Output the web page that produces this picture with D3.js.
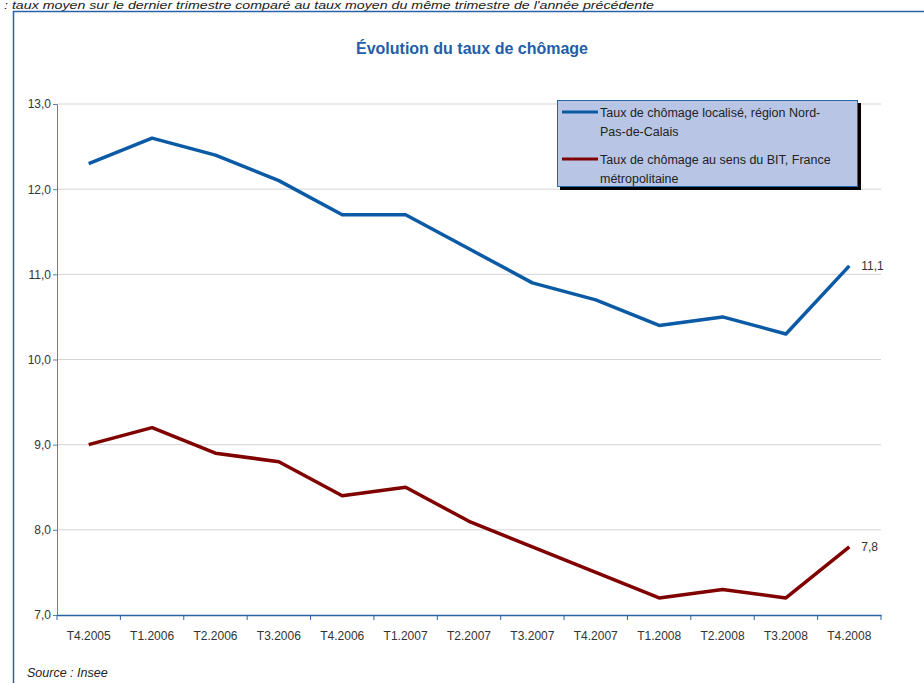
<!DOCTYPE html>
<html><head><meta charset="utf-8">
<script src="https://cdn.jsdelivr.net/npm/d3@7"></script>
<style>
body{margin:0;background:#fff;}
svg text{font-family:"Liberation Sans Narrow","Arial Narrow","Liberation Sans",Arial,sans-serif;}
</style></head>
<body><svg id="c" width="924" height="683"></svg>
<script>
const categories = ["T4.2005","T1.2006","T2.2006","T3.2006","T4.2006","T1.2007","T2.2007","T3.2007","T4.2007","T1.2008","T2.2008","T3.2008","T4.2008"];
const nordPasDeCalais = [12.3,12.6,12.4,12.1,11.7,11.7,11.3,10.9,10.7,10.4,10.5,10.3,11.1];
const franceMetro = [9.0,9.2,8.9,8.8,8.4,8.5,8.1,7.8,7.5,7.2,7.3,7.2,7.8];
const yTicks = [7,8,9,10,11,12,13];
const seriesNames = ["Taux de chômage localisé, région Nord-|Pas-de-Calais","Taux de chômage au sens du BIT, France|métropolitaine"];

const svg = d3.select("#c");
const blue = "#0a5aa6", red = "#800000";

svg.append("text").attr("x",4).attr("y",9).attr("font-size",11.5).attr("font-style","italic").attr("fill","#222")
  .attr("textLength",650).attr("lengthAdjust","spacingAndGlyphs")
  .text(": taux moyen sur le dernier trimestre comparé au taux moyen du même trimestre de l'année précédente");

svg.append("rect").attr("x",13.5).attr("y",11.5).attr("width",940).attr("height",700)
  .attr("fill","none").attr("stroke","#2a62a8").attr("stroke-width",1.5);

svg.append("text").attr("x",472).attr("y",54).attr("text-anchor","middle").attr("font-size",16).attr("font-weight","bold")
  .attr("fill","#1f5ea8").text("Évolution du taux de chômage");

const x = d3.scaleBand().domain(categories).range([57,881]);
const y = d3.scaleLinear().domain([7,13]).range([615,104]);

// gridlines
svg.append("g").selectAll("line").data(yTicks.filter(d=>d>7)).join("line")
  .attr("x1",57).attr("x2",881).attr("y1",d=>y(d)).attr("y2",d=>y(d))
  .attr("stroke","#d4d4d4").attr("stroke-width",1);

// y axis
const ya = svg.append("g").attr("transform","translate(57,0)")
  .call(d3.axisLeft(y).tickValues(yTicks).tickSize(4).tickFormat(d=>d3.format(".1f")(d).replace(".",",")));
ya.select(".domain").attr("stroke","#4a86c8");
ya.selectAll(".tick line").attr("stroke","#4a86c8");
ya.selectAll("text").attr("font-size",12).attr("fill","#333").attr("x",-6);

// x axis
const xa = svg.append("g").attr("transform","translate(0,615)")
  .call(d3.axisBottom(x).tickSize(0).tickPadding(16));
xa.select(".domain").attr("stroke","#2a62a8").attr("stroke-width",1.3);
xa.selectAll("text").attr("font-size",12).attr("fill","#333");
svg.append("g").selectAll("line").data(d3.range(categories.length+1)).join("line")
  .attr("x1",i=>57+i*x.step()).attr("x2",i=>57+i*x.step()).attr("y1",615).attr("y2",620)
  .attr("stroke","#2a62a8");

const line = d3.line().x((d,i)=>x(categories[i])+x.bandwidth()/2).y(d=>y(d));
svg.append("path").datum(nordPasDeCalais).attr("d",line).attr("fill","none").attr("stroke",blue).attr("stroke-width",3.5).attr("stroke-linejoin","round");
svg.append("path").datum(franceMetro).attr("d",line).attr("fill","none").attr("stroke",red).attr("stroke-width",3.5).attr("stroke-linejoin","round");

const last = categories.length-1;
const lx = x(categories[last])+x.bandwidth()/2;
svg.append("text").attr("x",lx+12).attr("y",y(nordPasDeCalais[last])+4).attr("font-size",12).attr("fill","#333")
  .text(d3.format(".1f")(nordPasDeCalais[last]).replace(".",","));
svg.append("text").attr("x",lx+12).attr("y",y(franceMetro[last])+4).attr("font-size",12).attr("fill","#333")
  .text(d3.format(".1f")(franceMetro[last]).replace(".",","));

// legend
svg.append("rect").attr("x",560).attr("y",103).attr("width",301).attr("height",87).attr("fill","#000");
svg.append("rect").attr("x",557.5).attr("y",100.5).attr("width",300).attr("height",86)
  .attr("fill","#b9c5e5").attr("stroke","#2a62a8").attr("stroke-width",1);
const cols=[blue,red];
seriesNames.forEach((n,i)=>{
  const yy = 112 + i*47;
  svg.append("line").attr("x1",562).attr("x2",598).attr("y1",yy).attr("y2",yy).attr("stroke",cols[i]).attr("stroke-width",3);
  n.split("|").forEach((t,j)=>{
    svg.append("text").attr("x",600).attr("y",yy+5+j*19).attr("font-size",12.5).attr("fill","#222").text(t);
  });
});

svg.append("text").attr("x",27).attr("y",677).attr("font-size",12.5).attr("font-style","italic").attr("fill","#222").text("Source : Insee");
</script></body></html>
